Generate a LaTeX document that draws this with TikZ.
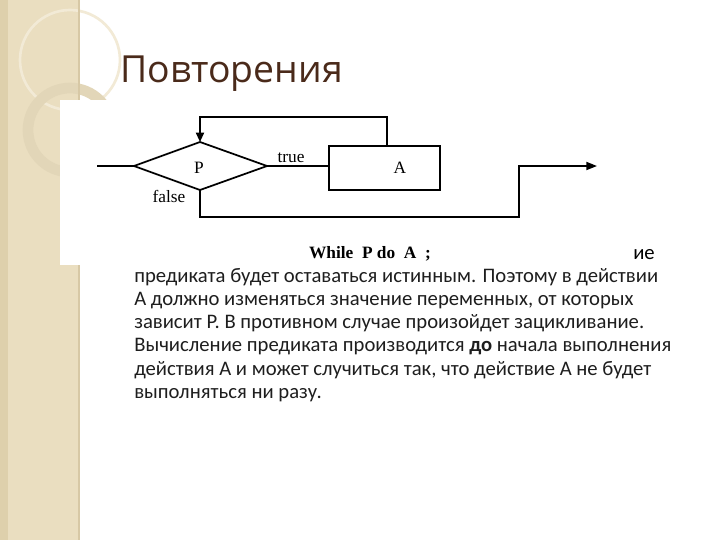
\documentclass[tikz,border=0pt]{standalone}
\usepackage{fontspec}
\setmainfont{Carlito}
\newfontfamily\timesf{Liberation Serif}
\usetikzlibrary{arrows.meta}
\definecolor{bandA}{RGB}{234,222,192}
\definecolor{bandB}{RGB}{222,208,172}
\definecolor{ringA}{RGB}{242,234,214}
\definecolor{ringB}{RGB}{226,214,184}
\definecolor{bandL}{RGB}{215,200,165}
\definecolor{titlec}{RGB}{74,42,26}
\definecolor{bodyc}{RGB}{30,30,30}
\begin{document}
\begin{tikzpicture}[x=0.75pt,y=-0.75pt,
  ln/.style={line width=1.3pt},
  lbl/.style={font=\timesf\fontsize{13}{14}\selectfont, inner sep=0pt}]
\useasboundingbox (0,0) rectangle (720,540);
\fill[white] (0,0) rectangle (720,540);
\fill[bandA] (0,0) rectangle (80,540);
\fill[bandB] (0,0) rectangle (8,540);
\draw[ringA, line width=2pt] (70,60) circle (50);
\draw[ringB, line width=8pt] (70,130) circle (42);
\draw[bandL, line width=1pt] (79,0) -- (79,540);
\fill[white] (60,100) rectangle (615,265);
\node[anchor=base west, inner sep=0pt, text=titlec,
  font=\fontsize{28}{32}\selectfont] (title) at (120,82) {\fontspec{Open Sans}Повторения};
% diagram
\coordinate (in) at (97,166);
\coordinate (pl) at (134,166);
\coordinate (pr) at (267,166);
\coordinate (pt) at (200,142);
\coordinate (pb) at (200,190);
\draw[ln] (pl) -- (pt) -- (pr) -- (pb) -- cycle;
\node[lbl] (p) at (199,168) {P};
\draw[ln] (329,146) rectangle (440,190);
\node[lbl] (a) at (400,168) {A};
\draw[ln] (in) -- (pl);
\draw[ln] (pr) -- (329,166);
\coordinate (t1) at (387,146);
\draw[ln,-{Triangle[length=7pt,width=6pt]}] (t1) -- (387,117) -- (200,117) -- (pt);
\coordinate (o) at (597,166);
\draw[ln,-{Triangle[length=8pt,width=6pt]}] (pb) -- (200,217) -- (519,217) -- (519,166) -- (o);
\node[lbl, anchor=base] (tr) at (291,162) {true};
\node[lbl, anchor=base] (fa) at (169,202) {false};
\node[anchor=base, inner sep=0pt, font=\timesf\bfseries\fontsize{13}{14}\selectfont] (w) at (370,258) {While\ \ P do\ \ A\ \ ;};
\node[anchor=base west, inner sep=0pt, font=\fontsize{15.5}{17}\selectfont] (ie) at (633,259) {ие};
\node[anchor=north west, inner sep=0pt, align=left, text=bodyc,
  font=\fontsize{15.5}{17.4}\selectfont] (body) at (134,268) {предиката будет оставаться истинным. Поэтому в действии\\
А должно изменяться значение переменных, от которых\\
зависит P. В противном случае произойдет зацикливание.\\
Вычисление предиката производится \textbf{до} начала выполнения\\
действия A и может случиться так, что действие A не будет\\
выполняться ни разу.};
\end{tikzpicture}
\end{document}
